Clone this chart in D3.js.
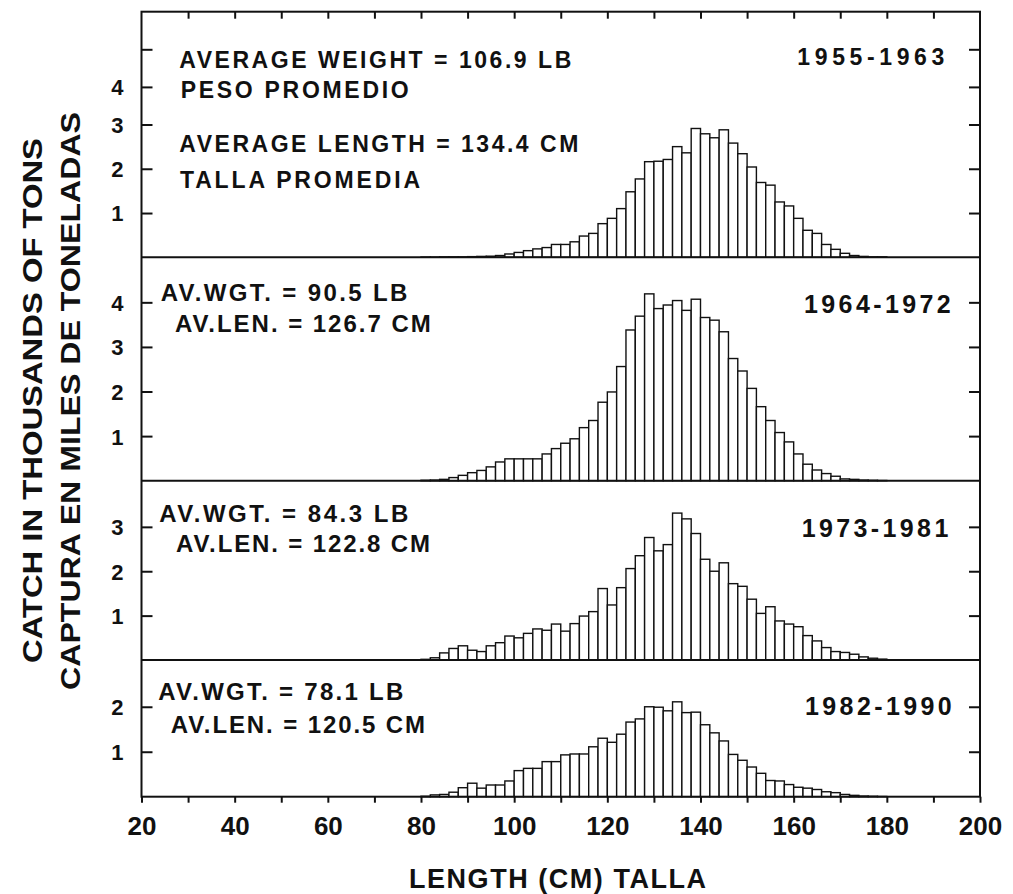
<!DOCTYPE html>
<html>
<head>
<meta charset="utf-8">
<script src="https://cdn.jsdelivr.net/npm/d3@7"></script>
<style>
  body { margin: 0; background: #fff; }
  text { font-family: "Liberation Sans", Arial, Helvetica, sans-serif; font-weight: bold; fill: #111; }
  .tick line { stroke: #111; stroke-width: 2; }
  .bar { fill: #fff; stroke: #111; stroke-width: 1.4; }
</style>
</head>
<body>
<svg width="1013" height="894"></svg>
<script>
// length bins: 2 cm wide, first bin starts at 80 cm
var binStart = 80,
  binWidth = 2;

// catch in thousands of tons per 2 cm length class
var catch1955 = [0.005, 0.005, 0.01, 0.01, 0.01, 0.015, 0.02, 0.025, 0.04, 0.075,
  0.11, 0.15, 0.19, 0.22, 0.29, 0.29, 0.35, 0.48, 0.54, 0.76,
  0.88, 1.10, 1.48, 1.77, 2.16, 2.17, 2.21, 2.50, 2.36, 2.91,
  2.79, 2.70, 2.88, 2.58, 2.34, 2.04, 1.69, 1.63, 1.25, 1.16,
  0.88, 0.61, 0.54, 0.29, 0.18, 0.09, 0.04, 0.02, 0.01, 0.01];
var catch1964 = [0.01, 0.015, 0.03, 0.07, 0.12, 0.18, 0.23, 0.31, 0.42, 0.49,
  0.49, 0.49, 0.49, 0.60, 0.72, 0.84, 0.94, 1.19, 1.35, 1.76,
  1.99, 2.56, 3.38, 3.69, 4.19, 3.86, 3.94, 4.04, 3.82, 4.07,
  3.66, 3.60, 3.34, 2.74, 2.46, 2.07, 1.66, 1.35, 1.08, 0.87,
  0.60, 0.37, 0.24, 0.16, 0.10, 0.04, 0.03, 0.015, 0.01, 0.005];
var catch1973 = [0.015, 0.05, 0.16, 0.26, 0.32, 0.22, 0.19, 0.32, 0.39, 0.54,
  0.50, 0.60, 0.70, 0.67, 0.81, 0.65, 0.82, 0.99, 1.09, 1.61,
  1.24, 1.63, 2.06, 2.35, 2.76, 2.46, 2.60, 3.31, 3.18, 2.85,
  2.27, 2.00, 2.19, 1.72, 1.66, 1.37, 1.05, 1.20, 0.88, 0.81,
  0.75, 0.55, 0.43, 0.28, 0.19, 0.17, 0.13, 0.07, 0.04, 0.02];
var catch1982 = [0.01, 0.04, 0.05, 0.10, 0.20, 0.30, 0.19, 0.26, 0.26, 0.35,
  0.58, 0.63, 0.63, 0.78, 0.78, 0.93, 0.95, 0.95, 1.11, 1.30,
  1.21, 1.39, 1.66, 1.73, 2.00, 1.99, 1.91, 2.11, 1.87, 1.88,
  1.60, 1.42, 1.24, 0.94, 0.81, 0.66, 0.52, 0.36, 0.35, 0.27,
  0.21, 0.19, 0.16, 0.11, 0.09, 0.05, 0.03, 0.015, 0.01, 0.005];

var periodLabels = ["1955-1963", "1964-1972", "1973-1981", "1982-1990"];
var weightLabels = ["AVERAGE WEIGHT = 106.9 LB", "AV.WGT. = 90.5 LB", "AV.WGT. = 84.3 LB", "AV.WGT. = 78.1 LB"];
var lengthLabels = ["AVERAGE LENGTH = 134.4 CM", "AV.LEN. = 126.7 CM", "AV.LEN. = 122.8 CM", "AV.LEN. = 120.5 CM"];
var xTicks = d3.range(20, 201, 10);

var svg = d3.select("svg"),
  frameLeft = 141.5,
  frameRight = 980,
  frameTop = 11.7,
  frameBottom = 796.7;

var x = d3.scaleLinear().domain([20, 200]).range([frameLeft, frameRight]);

// panel layout (the top panel's scale is compressed above 3, as printed)
var panels = [
  { values: catch1955, y: d3.scaleLinear().domain([0, 3, 6]).range([257.3, 124.5, frameTop]),
    ticks: [1, 2, 3, 4, 5], labels: [1, 2, 3, 4], size: 23, periodSize: 23,
    w: [179.3, 68.3, 392], l: [179.3, 151.7, 399], p: [797.3, 65, 147] },
  { values: catch1964, y: d3.scaleLinear().domain([0, 5.01]).range([480.7, 257.3]),
    ticks: [1, 2, 3, 4], labels: [1, 2, 3, 4], size: 24, periodSize: 25,
    w: [160.7, 300.7, 246.6], l: [175, 331.7, 255.7], p: [804, 312.7, 146.7] },
  { values: catch1973, y: d3.scaleLinear().domain([0, 4.04]).range([660, 480.7]),
    ticks: [1, 2, 3], labels: [1, 2, 3], size: 24, periodSize: 25,
    w: [159.3, 521.7, 249], l: [176, 552.3, 254], p: [801.7, 536.7, 146.6] },
  { values: catch1982, y: d3.scaleLinear().domain([0, 3.04]).range([frameBottom, 660]),
    ticks: [1, 2], labels: [1, 2], size: 24, periodSize: 25,
    w: [158.3, 700, 245], l: [170.7, 733.3, 254.3], p: [805, 715, 146.7] }
];

function label(g, txt, pos, size) {
  return g.append("text")
    .attr("x", pos[0])
    .attr("y", pos[1])
    .attr("textLength", pos[2])
    .attr("lengthAdjust", "spacing")
    .style("font-size", size + "px")
    .text(txt);
}

panels.forEach(function(p, k) {
  var g = svg.append("g");

  g.selectAll(".bar")
    .data(p.values)
    .enter()
    .append("rect")
    .attr("class", "bar")
    .attr("x", function(d, i) { return x(binStart + i * binWidth); })
    .attr("width", x(binStart + binWidth) - x(binStart))
    .attr("y", function(d) { return p.y(d); })
    .attr("height", function(d) { return p.y(0) - p.y(d); });

  var yl = g.append("g")
    .attr("transform", "translate(" + frameLeft + ",0)")
    .call(d3.axisLeft(p.y).tickValues(p.ticks).tickSizeInner(-11).tickSizeOuter(0).tickPadding(18)
      .tickFormat(function(d) { return p.labels.indexOf(d) >= 0 ? d : ""; }));
  yl.select(".domain").remove();
  yl.selectAll("text").style("font-size", "22px").attr("dy", "0.36em");

  var yr = g.append("g")
    .attr("transform", "translate(" + frameRight + ",0)")
    .call(d3.axisRight(p.y).tickValues(p.ticks).tickSizeInner(-11).tickSizeOuter(0).tickFormat(""));
  yr.select(".domain").remove();

  label(g, weightLabels[k], p.w, p.size);
  label(g, lengthLabels[k], p.l, p.size);
  label(g, periodLabels[k], p.p, p.periodSize);
  if (k === 0) {
    label(g, "PESO PROMEDIO", [180.7, 98.3, 228], p.size);
    label(g, "TALLA PROMEDIA", [180, 188.3, 240], p.size);
  }

  if (k > 0) {
    svg.append("line")
      .attr("x1", frameLeft).attr("x2", frameRight)
      .attr("y1", p.y.range()[1]).attr("y2", p.y.range()[1])
      .attr("stroke", "#111").attr("stroke-width", 2);
  }
});

// top ticks
var xt = svg.append("g")
  .attr("transform", "translate(0," + frameTop + ")")
  .call(d3.axisTop(x).tickValues(xTicks.slice(1, -1)).tickSizeInner(-7).tickSizeOuter(0).tickFormat(""));
xt.select(".domain").remove();

// bottom axis
var xb = svg.append("g")
  .attr("transform", "translate(0," + frameBottom + ")")
  .call(d3.axisBottom(x).tickValues(xTicks).tickSizeInner(6).tickSizeOuter(0).tickPadding(14)
    .tickFormat(function(d) { return d % 20 === 0 ? d : ""; }));
xb.select(".domain").remove();
xb.selectAll("text").style("font-size", "26px");

// frame
svg.append("rect")
  .attr("x", frameLeft).attr("y", frameTop)
  .attr("width", frameRight - frameLeft).attr("height", frameBottom - frameTop)
  .attr("fill", "none").attr("stroke", "#111").attr("stroke-width", 2);

// axis titles
svg.append("text")
  .attr("transform", "translate(41.7,400.5) rotate(-90)")
  .attr("text-anchor", "middle")
  .attr("textLength", 525).attr("lengthAdjust", "spacingAndGlyphs")
  .style("font-size", "27px")
  .text("CATCH IN THOUSANDS OF TONS");
svg.append("text")
  .attr("transform", "translate(80,401) rotate(-90)")
  .attr("text-anchor", "middle")
  .attr("textLength", 578).attr("lengthAdjust", "spacingAndGlyphs")
  .style("font-size", "27px")
  .text("CAPTURA EN MILES DE TONELADAS");
svg.append("text")
  .attr("x", 409).attr("y", 888)
  .attr("textLength", 297).attr("lengthAdjust", "spacing")
  .style("font-size", "27px")
  .text("LENGTH (CM) TALLA");
</script>
</body>
</html>
